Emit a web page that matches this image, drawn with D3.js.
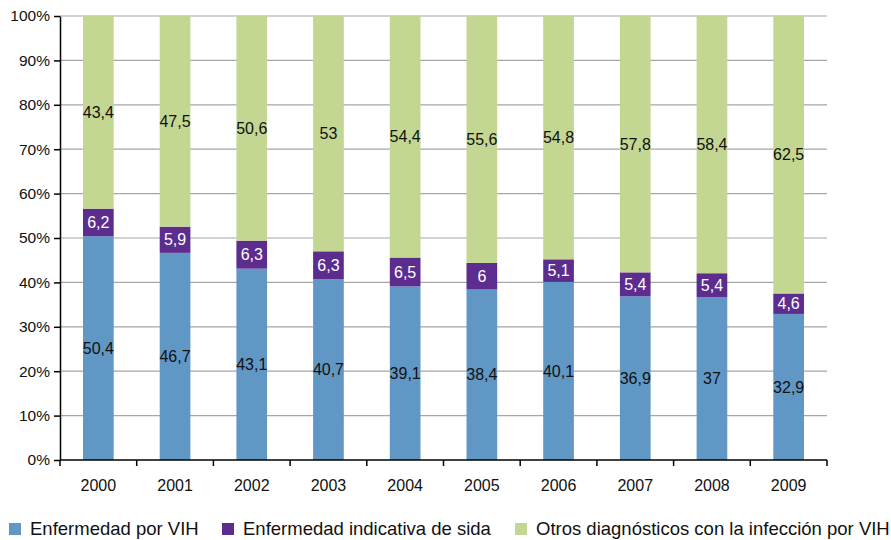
<html>
<head>
    <script src="https://d3js.org/d3.v7.min.js"></script>
    <style>
        body { margin: 0; background: #fff; }
        text { font-family: "Liberation Sans", Arial, sans-serif; }
    </style>
</head>
<body>
<div id="chart"></div>
<script>
    // data
    var years = ["2000", "2001", "2002", "2003", "2004", "2005", "2006", "2007", "2008", "2009"];
    var vih = [50.4, 46.7, 43.1, 40.7, 39.1, 38.4, 40.1, 36.9, 37, 32.9];
    var sida = [6.2, 5.9, 6.3, 6.3, 6.5, 6, 5.1, 5.4, 5.4, 4.6];
    var otros = [43.4, 47.5, 50.6, 53, 54.4, 55.6, 54.8, 57.8, 58.4, 62.5];
    var seriesNames = ["Enfermedad por VIH", "Enfermedad indicativa de sida", "Otros diagnósticos con la infección por VIH"];
    var yTicks = [0, 0.1, 0.2, 0.3, 0.4, 0.5, 0.6, 0.7, 0.8, 0.9, 1];

    var colors = ["#6197c5", "#5c2d8f", "#c3d692"];
    var labelColors = ["#111", "#fff", "#111"];

    var W = 891, H = 540;
    var margin = {top: 16, right: 64, bottom: 80, left: 60};
    var width = W - margin.left - margin.right;
    var height = H - margin.top - margin.bottom;

    var svg = d3.select("#chart").append("svg")
        .attr("width", W).attr("height", H);
    var g = svg.append("g")
        .attr("transform", "translate(" + margin.left + "," + margin.top + ")");

    var x = d3.scaleBand().domain(years).range([0, width]).paddingInner(0.6).paddingOuter(0.3);
    var xTicks = d3.scaleBand().domain(years).range([0, width]);
    var y = d3.scaleLinear().domain([0, 1]).range([height, 0]);

    // gridlines
    g.selectAll(".grid").data(yTicks.slice(1)).enter().append("line")
        .attr("x1", 0).attr("x2", width)
        .attr("y1", function(d) { return y(d); })
        .attr("y2", function(d) { return y(d); })
        .attr("stroke", "#a6a6a6").attr("stroke-width", 1.2);

    // stack data
    var table = years.map(function(yr, i) {
        return {year: yr, s0: vih[i], s1: sida[i], s2: otros[i]};
    });
    var stack = d3.stack().keys(["s0", "s1", "s2"]).offset(d3.stackOffsetExpand);
    var layers = stack(table);

    layers.forEach(function(layer, li) {
        var vals = [vih, sida, otros][li];
        g.selectAll(".bar" + li).data(layer).enter().append("rect")
            .attr("x", function(d) { return x(d.data.year); })
            .attr("width", x.bandwidth())
            .attr("y", function(d) { return y(d[1]); })
            .attr("height", function(d) { return y(d[0]) - y(d[1]); })
            .attr("fill", colors[li]);
        g.selectAll(".lab" + li).data(layer).enter().append("text")
            .attr("x", function(d) { return x(d.data.year) + x.bandwidth() / 2; })
            .attr("y", function(d) { return (y(d[0]) + y(d[1])) / 2; })
            .attr("dy", "0.35em")
            .attr("text-anchor", "middle")
            .style("font-size", "16px")
            .attr("fill", labelColors[li])
            .text(function(d, i) { return String(vals[i]).replace(".", ","); });
    });

    // y axis
    var yAxis = g.append("g")
        .call(d3.axisLeft(y).tickValues(yTicks).tickSize(6).tickSizeOuter(0)
            .tickFormat(function(d) { return Math.round(d * 100) + "%"; }));
    yAxis.select(".domain").attr("stroke", "#000").attr("stroke-width", 1.5);
    yAxis.selectAll(".tick line").attr("stroke", "#000").attr("stroke-width", 1.5);
    yAxis.selectAll("text").style("font-size", "15.5px").attr("fill", "#111").attr("x", -10);

    // x axis
    var xAxis = g.append("g").attr("transform", "translate(0," + height + ")");
    xAxis.append("line").attr("x1", 0).attr("x2", width)
        .attr("stroke", "#000").attr("stroke-width", 1.5);
    xAxis.selectAll(".xt").data(years.concat(["end"])).enter().append("line")
        .attr("x1", function(d, i) { return i * xTicks.bandwidth(); })
        .attr("x2", function(d, i) { return i * xTicks.bandwidth(); })
        .attr("y1", 0).attr("y2", 6)
        .attr("stroke", "#000").attr("stroke-width", 1.5);
    xAxis.selectAll(".xl").data(years).enter().append("text")
        .attr("x", function(d) { return x(d) + x.bandwidth() / 2; })
        .attr("y", 31)
        .attr("text-anchor", "middle")
        .style("font-size", "16px")
        .attr("fill", "#111")
        .text(function(d) { return d; });

    // legend
    var legendX = [9, 222, 515];
    var legend = svg.selectAll(".legend").data(seriesNames).enter().append("g")
        .attr("transform", function(d, i) { return "translate(" + legendX[i] + ",523)"; });
    legend.append("rect").attr("width", 12).attr("height", 12)
        .attr("fill", function(d, i) { return colors[i]; });
    legend.append("text").attr("x", 21).attr("y", 12)
        .style("font-size", "18.5px").attr("fill", "#111")
        .text(function(d) { return d; });
</script>
</body>
</html>
